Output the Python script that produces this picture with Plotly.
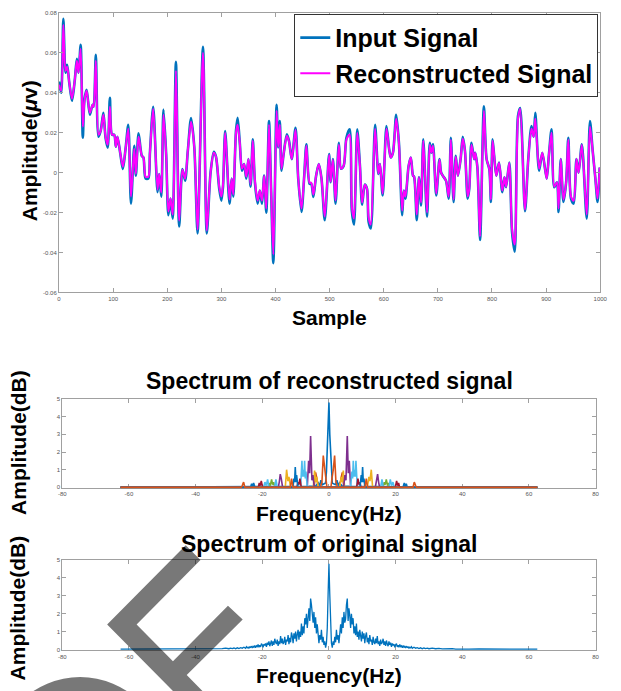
import plotly.graph_objects as go

# ---------------- data: time-domain signals ----------------
sample_idx = [0, 4, 8, 12, 15, 19, 24, 29, 33, 36, 40, 44, 47, 51, 57, 62, 64, 68, 73, 77,
              82, 86, 90, 94, 98, 102, 105, 108, 113, 118, 123, 128, 133, 139, 142, 147, 153, 156, 160, 165,
              168, 174, 182, 185, 189, 193, 198, 202, 206, 210, 216, 222, 228, 233, 238, 244, 250, 256, 266, 273,
              280, 286, 290, 296, 300, 303, 307, 315, 319, 322, 327, 330, 334, 338, 342, 346, 350, 354, 358, 362,
              367, 371, 375, 379, 383, 388, 392, 396, 402, 405, 408, 411, 415, 421, 425, 430, 437, 442, 448, 453,
              457, 463, 466, 470, 475, 480, 485, 491, 499, 502, 506, 511, 517, 521, 526, 531, 537, 541, 545, 551,
              556, 560, 565, 569, 572, 576, 584, 590, 593, 598, 605, 610, 613, 617, 623, 628, 634, 637, 640, 646,
              650, 654, 656, 661, 665, 669, 673, 680, 685, 688, 691, 697, 703, 706, 709, 715, 720, 724, 729, 733,
              737, 742, 746, 750, 755, 758, 762, 767, 769, 773, 778, 785, 790, 795, 798, 801, 804, 808, 813, 819,
              823, 826, 832, 837, 842, 848, 852, 861, 867, 873, 877, 880, 887, 893, 901, 905, 910, 915, 920, 923,
              927, 932, 937, 941, 946, 951, 956, 960, 966, 975, 981, 986, 991, 995, 999]

input_signal = [0.0456, 0.040, 0.077, 0.050, 0.054, 0.045, 0.036, 0.046, 0.057, 0.050, 0.064, 0.0175, 0.0365, 0.0415, 0.029, 0.034, 0.033, 0.059, 0.018, 0.021,
                0.030, 0.0175, 0.0125, 0.0375, 0.019, 0.019, 0.013, 0.018, 0.010, 0.0018, 0.012, 0.024, -0.0155, 0.0134, -0.0015, 0.0197, 0.0084, 0.0076, -0.003, -0.003,
                0.010, 0.033, -0.0098, -0.0007, -0.012, 0.0316, 0.009, -0.0213, -0.013, -0.023, 0.0555, -0.027, 0.0018, -0.004, 0.011, 0.0274, 0.0126, -0.0304, 0.063, -0.0304,
                0.000, 0.0105, 0.008, -0.008, -0.014, -0.007, 0.0208, -0.0155, -0.003, -0.012, 0.021, 0.0275, 0.015, 0.001, 0.0043, -0.003, 0.0068, -0.007, 0.0167, -0.005,
                -0.0155, -0.009, -0.0155, -0.0015, -0.020, 0.0258, -0.010, -0.0453, 0.034, 0.0126, 0.0258, 0.001, 0.0093, 0.0192, 0.0159, 0.0068, 0.0225, -0.003, -0.0197, -0.002,
                0.0142, -0.0056, -0.0056, -0.0122, -0.0015, 0.0043, -0.003, -0.0238, 0.0093, -0.0048, 0.0068, -0.0155, 0.015, 0.002, 0.0035, 0.0175, 0.0217, -0.019, -0.026, 0.0217,
                0.0035, -0.016, -0.006, -0.008, -0.0246, -0.028, 0.024, -0.0007, 0.0043, -0.0114, 0.0233, 0.0117, 0.0076, 0.010, 0.029, 0.015, -0.0213, -0.009, -0.013, 0.0035,
                0.0076, -0.0015, -0.002, -0.0238, -0.0023, -0.0164, 0.0167, -0.022, 0.015, 0.010, 0.0142, -0.0114, 0.0068, 0.000, -0.0015, -0.004, -0.013, 0.0175, -0.0147, 0.0084,
                -0.0015, 0.0068, 0.018, 0.011, -0.013, -0.008, 0.015, 0.0068, 0.010, 0.0026, -0.0337, 0.0332, 0.0068, 0.0018, -0.0147, 0.0167, 0.0084, -0.0015, 0.005, -0.0098,
                -0.0023, -0.0073, 0.005, -0.0296, -0.0395, 0.0283, 0.0324, -0.0193, 0.0068, 0.0233, 0.018, 0.030, 0.001, 0.010, -0.003, 0.0084, 0.0217, -0.0073, -0.0048, -0.0197,
                0.0068, -0.0147, -0.0048, 0.0175, -0.013, -0.0155, 0.0068, 0.000, 0.0142, -0.023, 0.0258, 0.011, -0.003, -0.0147, 0.0026]

reconstructed_signal = [0.0440, 0.041, 0.074, 0.051, 0.053, 0.045, 0.037, 0.046, 0.056, 0.050, 0.062, 0.0230, 0.0360, 0.0410, 0.030, 0.034, 0.033, 0.056, 0.019, 0.021,
                        0.029, 0.0180, 0.0140, 0.0330, 0.019, 0.019, 0.013, 0.018, 0.010, 0.0030, 0.012, 0.022, -0.0120, 0.0120, -0.0005, 0.0180, 0.0084, 0.0076, -0.002, -0.002,
                        0.010, 0.032, -0.0085, -0.0007, -0.010, 0.0290, 0.009, -0.0195, -0.013, -0.021, 0.0510, -0.024, 0.0015, -0.003, 0.011, 0.0255, 0.0126, -0.0285, 0.060, -0.0290,
                        0.000, 0.0100, 0.008, -0.007, -0.012, -0.006, 0.0200, -0.0135, -0.003, -0.011, 0.020, 0.0240, 0.015, 0.002, 0.0043, -0.002, 0.0068, -0.006, 0.0160, -0.004,
                        -0.0140, -0.009, -0.0140, -0.0015, -0.018, 0.0240, -0.010, -0.0410, 0.031, 0.0130, 0.0240, 0.002, 0.0093, 0.0185, 0.0155, 0.0068, 0.0215, -0.003, -0.0180, -0.002,
                        0.0135, -0.0050, -0.0050, -0.0110, -0.0015, 0.0043, -0.003, -0.0220, 0.0090, -0.0045, 0.0065, -0.0140, 0.014, 0.002, 0.0035, 0.0165, 0.0190, -0.017, -0.023, 0.0200,
                        0.0035, -0.015, -0.006, -0.008, -0.0225, -0.026, 0.022, -0.0005, 0.0043, -0.0105, 0.0220, 0.0117, 0.0076, 0.010, 0.027, 0.015, -0.0190, -0.009, -0.012, 0.0035,
                        0.0076, -0.0015, -0.002, -0.0210, -0.0023, -0.0150, 0.0160, -0.020, 0.014, 0.010, 0.0135, -0.0105, 0.0065, 0.000, -0.0015, -0.004, -0.012, 0.0165, -0.0135, 0.0080,
                        -0.0015, 0.0068, 0.017, 0.011, -0.012, -0.008, 0.014, 0.0068, 0.010, 0.0026, -0.0320, 0.0310, 0.0068, 0.0018, -0.0135, 0.0160, 0.0084, -0.0015, 0.005, -0.0090,
                        -0.0023, -0.0070, 0.005, -0.0280, -0.0360, 0.0270, 0.0320, -0.0185, 0.0068, 0.0220, 0.018, 0.027, 0.002, 0.010, -0.003, 0.0084, 0.0200, -0.0070, -0.0048, -0.0180,
                        0.0068, -0.0135, -0.0048, 0.0165, -0.012, -0.0140, 0.0068, 0.000, 0.0140, -0.021, 0.0230, 0.011, -0.003, -0.0130, 0.0026]

# ---------------- data: spectrum of original signal (positive half, symmetric) ----------------
orig_freq_pos = [0.00, 0.25, 0.50, 0.75, 1.00, 1.25, 1.50, 1.75, 2.00, 2.25, 2.50, 2.75, 3.00, 3.25, 3.50, 3.75,
                 4.00, 4.25, 4.50, 4.75, 5.00, 5.25, 5.50, 5.75, 6.00, 6.25, 6.50, 6.75, 7.00, 7.25, 7.50, 7.75,
                 8.00, 8.25, 8.50, 8.75, 9.00, 9.25, 9.50, 9.75, 10.00, 10.25, 10.50, 10.75, 11.00, 11.25, 11.50, 11.75,
                 12.00, 12.25, 12.50, 12.75, 13.00, 13.25, 13.50, 13.75, 14.00, 14.25, 14.50, 14.75, 15.00, 15.25, 15.50, 15.75,
                 16.00, 16.25, 16.50, 16.75, 17.00, 17.25, 17.50, 17.75, 18.00, 18.25, 18.50, 18.75, 19.00, 19.25, 19.50, 19.75,
                 20.00, 20.25, 20.50, 20.75, 21.00, 21.25, 21.50, 21.75, 22.00, 22.25, 22.50, 22.75, 23.00, 23.25, 23.50, 23.75,
                 24.00, 24.25, 24.50, 24.75, 25.00, 25.50, 26.00, 26.50, 27.00, 27.50, 28.00, 28.50, 29.00, 29.50, 30.00,
                 31.0, 32.0, 33.0, 34.0, 35.0, 36.0, 37.0, 38.0, 40.0, 42.0, 45.0, 48.0, 52.0, 56.0, 62.5]
orig_amp_pos = [4.80, 3.10, 1.20, 0.35, 0.10, 0.45, 0.25, 0.70, 0.40, 1.10, 0.55, 0.80, 0.35, 0.95, 1.40, 0.90,
                1.80, 1.20, 2.10, 1.50, 1.70, 2.50, 2.85, 1.60, 2.30, 1.90, 1.20, 2.00, 1.40, 1.75, 0.90, 1.30,
                0.80, 1.45, 0.70, 1.00, 0.55, 1.10, 0.85, 0.45, 1.00, 0.60, 0.90, 0.35, 0.75, 0.95, 0.40, 0.65,
                0.30, 0.80, 0.45, 0.55, 0.25, 0.70, 0.40, 0.30, 0.60, 0.35, 0.75, 0.30, 0.45, 0.20, 0.55, 0.30,
                0.40, 0.60, 0.25, 0.45, 0.20, 0.50, 0.30, 0.18, 0.45, 0.25, 0.38, 0.15, 0.34, 0.22, 0.30, 0.12,
                0.26, 0.32, 0.14, 0.24, 0.12, 0.28, 0.16, 0.20, 0.10, 0.22, 0.13, 0.17, 0.08, 0.18, 0.11, 0.14,
                0.07, 0.13, 0.09, 0.15, 0.06, 0.12, 0.07, 0.10, 0.05, 0.09, 0.04, 0.08, 0.05, 0.07, 0.04,
                0.07, 0.04, 0.06, 0.03, 0.05, 0.03, 0.05, 0.02, 0.04, 0.02, 0.03, 0.02, 0.03, 0.02, 0.02]

# ---------------- data: spectra of reconstructed components (positive halves, symmetric) ----------------
comp_colors = ["#0072BD", "#D95319", "#EDB120", "#7E2F8E", "#77AC30", "#4DBEEE", "#A2142F", "#0072BD", "#D95319"]
comp_freq_pos = [
    [0, 0.25, 0.5, 0.75, 1.0, 1.4, 2.0, 2.4, 2.8, 3.2, 4, 6, 10, 20, 30, 62.5],
    [0, 0.6, 0.9, 1.3, 1.7, 2.1, 2.6, 3.2, 3.6, 4.0, 4.4, 5, 62.5],
    [0, 3.2, 3.7, 4.0, 4.3, 4.7, 11.5, 12.0, 12.3, 12.7, 13.1, 62.5],
    [0, 4.4, 4.8, 5.1, 5.5, 5.8, 6.1, 6.5, 13.9, 14.3, 14.6, 14.9, 15.2, 62.5],
    [0, 16.2, 16.6, 16.9, 17.2, 17.6, 17.9, 18.2, 62.5],
    [0, 6.5, 6.9, 7.1, 7.3, 7.5, 7.7, 7.9, 8.1, 8.5, 15.5, 15.9, 16.3, 18.0, 18.4, 18.8, 19.2, 19.6, 62.5],
    [0, 8.3, 8.7, 9.0, 9.3, 9.6, 19.9, 20.3, 20.6, 20.9, 21.2, 62.5],
    [0, 9.3, 9.7, 9.9, 10.1, 10.3, 10.5, 10.8, 22.2, 22.6, 22.9, 23.2, 23.5, 62.5],
    [0, 10.8, 11.2, 11.6, 25.2, 25.6, 26.0, 26.3, 62.5],
]
comp_amp_pos = [
    [4.8, 3.0, 2.0, 0.9, 0.25, 0.2, 0.15, 0.4, 0.1, 0.25, 0.08, 0.06, 0.05, 0.03, 0.02, 0.01],
    [0, 0, 0.5, 1.0, 1.8, 0.3, 0, 0, 0.5, 0.85, 0.1, 0, 0],
    [0, 0, 0.6, 0.3, 0.95, 0, 0, 0.6, 0.35, 1.0, 0, 0],
    [0, 0, 0.7, 0.4, 2.9, 0.8, 1.5, 0, 0, 0.5, 0.75, 0.3, 0, 0],
    [0, 0, 0.3, 0.15, 0.45, 0.1, 0.25, 0, 0],
    [0, 0, 0.9, 0.5, 1.5, 0.6, 1.0, 0.6, 1.5, 0, 0, 0.45, 0, 0, 0.45, 0.1, 0.3, 0, 0],
    [0, 0, 0.5, 0.15, 0.3, 0, 0, 0.37, 0.1, 0.25, 0, 0],
    [0, 0, 0.7, 0.3, 1.15, 0.3, 0.5, 0, 0, 0.25, 0.05, 0.2, 0, 0],
    [0, 0, 0.5, 0, 0, 0.3, 0.1, 0, 0],
]

# ---------------- ticks ----------------
top_xticks = [0, 100, 200, 300, 400, 500, 600, 700, 800, 900, 1000]
top_yticks = [-0.06, -0.04, -0.02, 0, 0.02, 0.04, 0.06, 0.08]
top_yticklabels = ["-0.06", "-0.04", "-0.02", "0", "0.02", "0.04", "0.06", "0.08"]
spec_xticks = [-80, -60, -40, -20, 0, 20, 40, 60, 80]
spec_xticklabels = ["-80", "-60", "-40", "-20", "0", "20", "40", "60", "80"]
spec_yticks = [0, 1, 2, 3, 4, 5]


def mirror(f_pos, a_pos):
    """Two-sided magnitude spectrum of a real signal is symmetric about 0 Hz."""
    neg_f = [-f for f in reversed(f_pos) if f != 0]
    neg_a = [a for f, a in zip(reversed(f_pos), reversed(a_pos)) if f != 0]
    return neg_f + list(f_pos), neg_a + list(a_pos)


W, H = 621, 691
FONT = "Liberation Sans"

fig = go.Figure()

fig.add_trace(go.Scatter(x=sample_idx, y=input_signal, mode="lines", name="Input Signal",
                         line=dict(color="#0072BD", width=2.6, shape="spline", smoothing=0.8),
                         xaxis="x", yaxis="y"))
fig.add_trace(go.Scatter(x=sample_idx, y=reconstructed_signal, mode="lines", name="Reconstructed Signal",
                         line=dict(color="#FF00FF", width=2, shape="spline", smoothing=0.8),
                         xaxis="x", yaxis="y"))

for col, fp, ap in zip(comp_colors, comp_freq_pos, comp_amp_pos):
    fx, ay = mirror(fp, ap)
    fig.add_trace(go.Scatter(x=fx, y=ay, mode="lines", showlegend=False,
                             line=dict(color=col, width=1.6), xaxis="x2", yaxis="y2"))

ofx, oay = mirror(orig_freq_pos, orig_amp_pos)
fig.add_trace(go.Scatter(x=ofx, y=oay, mode="lines", showlegend=False,
                         line=dict(color="#0072BD", width=1.3), xaxis="x3", yaxis="y3"))

axis_common = dict(showline=True, linecolor="#a0a0a0", linewidth=1, mirror="ticks",
                   ticks="inside", ticklen=4, tickcolor="#a0a0a0", showgrid=False, zeroline=False,
                   tickfont=dict(family=FONT, size=6, color="#555555"), tickmode="array")
spec_axis = dict(axis_common, layer="below traces")

fig.update_layout(
    width=W, height=H, autosize=False,
    margin=dict(l=0, r=0, t=0, b=0),
    paper_bgcolor="white", plot_bgcolor="white",
    xaxis=dict(domain=[56 / W, 607 / W], anchor="y", range=[0, 1000], tickvals=top_xticks, **axis_common),
    yaxis=dict(domain=[1 - 292 / H, 1 - 10 / H], anchor="x", range=[-0.06, 0.08],
               tickvals=top_yticks, ticktext=top_yticklabels, **axis_common),
    xaxis2=dict(domain=[59.3 / W, 602.3 / W], anchor="y2", range=[-80, 80],
                tickvals=spec_xticks, ticktext=spec_xticklabels, **spec_axis),
    yaxis2=dict(domain=[1 - 489.5 / H, 1 - 399.5 / H], anchor="x2", range=[-0.05, 5],
                tickvals=spec_yticks, **spec_axis),
    xaxis3=dict(domain=[59.3 / W, 602.3 / W], anchor="y3", range=[-80, 80],
                tickvals=spec_xticks, ticktext=spec_xticklabels, **spec_axis),
    yaxis3=dict(domain=[1 - 653 / H, 1 - 562 / H], anchor="x3", range=[-0.05, 5],
                tickvals=spec_yticks, **spec_axis),
    legend=dict(x=605 / W, xanchor="right", y=1 - 11 / H, yanchor="top",
                bgcolor="white", bordercolor="#333333", borderwidth=1,
                font=dict(family=FONT, size=25, color="black", weight="bold"),
                itemwidth=30, tracegroupgap=0),
    showlegend=True,
)

title_font = dict(family=FONT, size=21, color="black", weight="bold")
big_title_font = dict(family=FONT, size=23, color="black", weight="bold")


def label(text, xpx, ypx, angle=0, font=title_font):
    fig.add_annotation(text=text, x=xpx / W, y=1 - ypx / H, xref="paper", yref="paper",
                       showarrow=False, textangle=angle, font=font,
                       xanchor="center", yanchor="middle")


label("Sample", 331, 317)
label("Amplitude(<i>μ</i>v)", 26, 149, -90)
label("Spectrum of reconstructed signal", 331, 381, font=big_title_font)
label("Frequency(Hz)", 331, 515)
label("Amplitude(dB)", 14, 443, -90)
label("Spectrum of original signal", 331, 546, font=big_title_font)
label("Frequency(Hz)", 331, 678)
label("Amplitude(dB)", 14, 610, -90)

# grey translucent watermark stamped over the lower-left corner
pts = [(185, 547), (200, 562), (135, 627), (172, 664), (228, 608), (243, 622),
       (186, 678), (208, 700), (178, 700), (105, 627)]
path = "M " + " L ".join(f"{x / W:.5f},{1 - y / H:.5f}" for x, y in pts) + " Z"
fig.add_shape(type="path", path=path, xref="paper", yref="paper",
              fillcolor="black", opacity=0.53, line=dict(width=0), layer="above")
fig.add_shape(type="circle", xref="paper", yref="paper",
              x0=-10 / W, x1=165 / W, y0=1 - 855 / H, y1=1 - 680 / H,
              fillcolor="black", opacity=0.53, line=dict(width=0), layer="above")

fig.write_html("out.html")
